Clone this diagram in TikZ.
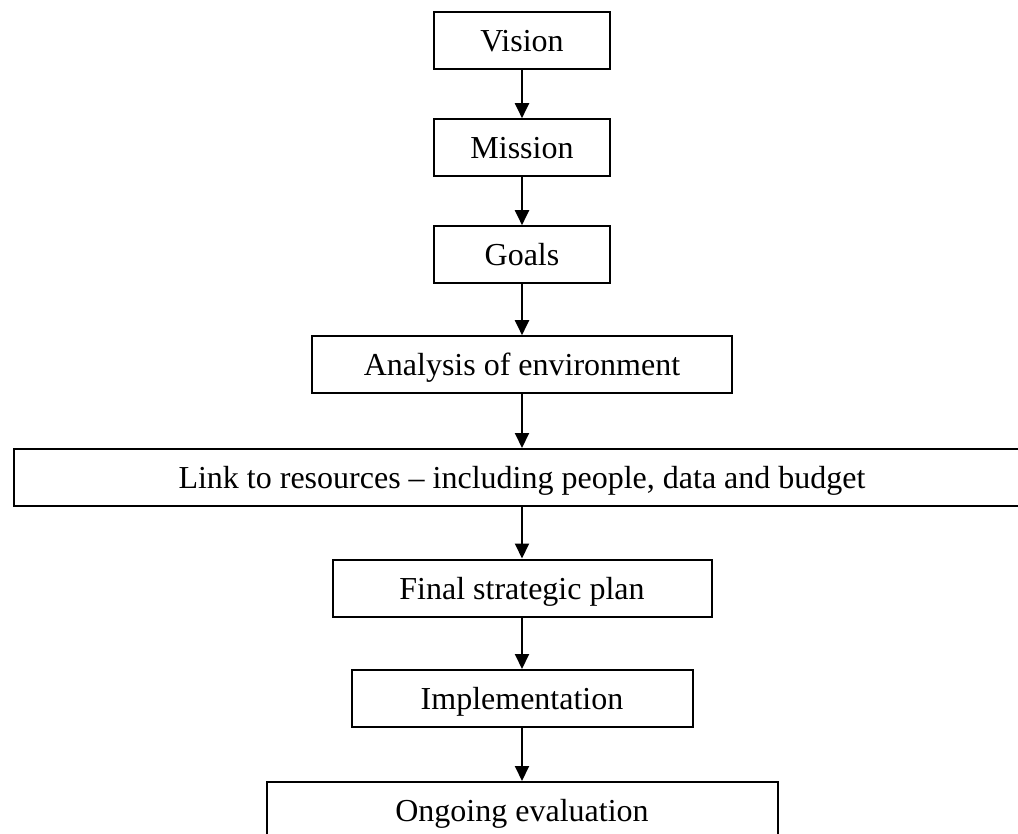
\documentclass[tikz,border=0pt]{standalone}
\usepackage{fontspec}
\setmainfont{Liberation Serif}
\usepackage{tikz}
\usetikzlibrary{arrows.meta}
\tikzstyle{Box}=[draw=black,line width=2pt,inner sep=0pt,minimum height=57pt,
text height=22pt,text depth=0pt,font=\fontsize{32}{38}\selectfont]
\tikzstyle{Edge}=[draw=black,line width=2pt,
-{Triangle[width=14pt,length=15pt]}]

\begin{document}
\begin{tikzpicture}[x=1pt,y=-1pt]
            \useasboundingbox(0,0)rectangle(1018,834);
            \node[Box,minimum width=176pt](0)at(522,41){Vision};
            \node[Box,minimum width=176pt](1)at(522,147.7){Mission};
            \node[Box,minimum width=176pt](2)at(522,254.7){Goals};
            \node[Box,minimum width=420pt](3)at(522,364.7)
                {Analysis of environment};
            \node[Box,minimum width=1017pt](4)at(522,477.5)
                {Link to resources -- including people, data and budget};
            \node[Box,minimum width=379pt](5)at(522,588){Final strategic plan};
            \node[Box,minimum width=341pt](6)at(522,698.5){Implementation};
            \node[Box,minimum width=511pt](7)at(522,810.5){Ongoing evaluation};
            \draw[Edge](0)--(1);
            \draw[Edge](1)--(2);
            \draw[Edge](2)--(3);
            \draw[Edge](3)--(4);
            \draw[Edge](4)--(5);
            \draw[Edge](5)--(6);
            \draw[Edge](6)--(7);
        \end{tikzpicture}
\end{document}
